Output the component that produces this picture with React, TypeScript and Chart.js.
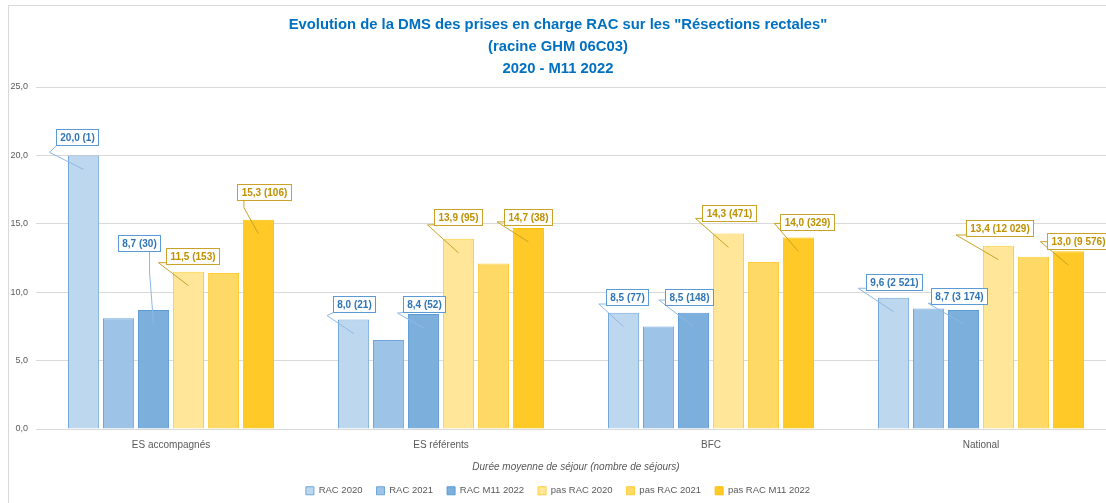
import React, { useEffect, useRef } from "react";
import { Chart, registerables } from "chart.js";

Chart.register(...registerables);

// ---------- DATA ----------
const CATEGORIES = ["ES accompagnés", "ES référents", "BFC", "National"];
const SERIES_NAMES = ["RAC 2020", "RAC 2021", "RAC M11 2022", "pas RAC 2020", "pas RAC 2021", "pas RAC M11 2022"];
const RAC_2020 = [20.0, 8.0, 8.5, 9.6];
const RAC_2021 = [8.1, 6.5, 7.5, 8.8];
const RAC_M11_2022 = [8.7, 8.4, 8.5, 8.7];
const PAS_RAC_2020 = [11.5, 13.9, 14.3, 13.4];
const PAS_RAC_2021 = [11.4, 12.1, 12.2, 12.6];
const PAS_RAC_M11_2022 = [15.3, 14.7, 14.0, 13.0];
// number of stays (shown in labels)
const N_RAC_2020 = [1, 21, 77, 2521];
const N_RAC_M11_2022 = [30, 52, 148, 3174];
const N_PAS_RAC_2020 = [153, 95, 471, 12029];
const N_PAS_RAC_M11_2022 = [106, 38, 329, 9576];
const Y_MIN = 0;
const Y_MAX = 25;
const Y_STEP = 5;
const TITLE_LINES = [
  "Evolution de la DMS des prises en charge RAC sur les \"Résections rectales\"",
  "(racine GHM 06C03)",
  "2020 - M11 2022",
];
const X_TITLE = "Durée moyenne de séjour (nombre de séjours)";

// ---------- STYLE ----------
const FONT = "'Liberation Sans', Arial, sans-serif";
const FILLS = ["#BDD7EE", "#9DC3E6", "#7DAFDD", "#FFE699", "#FFD966", "#FFCA28"];
const BORDERS = ["#6FA6DA", "#6FA6DA", "#5B9BD5", "#FFCD3A", "#FFCD3A", "#FFC000"];
const BLUE_LBL = { text: "#2F75B5", border: "#5B9BD5", line: "#8DB9E4" };
const GOLD_LBL = { text: "#BF9000", border: "#C9A227", line: "#C9A227" };

// label callout layout: [boxDx, boxDy, elbowDx, elbowDy] relative to bar top-centre
const CALLOUTS_S0 = [[-7, -18.5, -34, -3], [0, -16, -26.5, -4], [3, -16, -24.7, -8.7], [0, -16, -35.4, -9.4]];
const CALLOUTS_S2 = [[-15, -67, -4, -38], [0, -10.5, -26, -1], [-5, -16, -34.7, -12.7], [-5, -14, -35.4, -6.7]];
const CALLOUTS_S3 = [[4, -16, -30, -9], [0, -22, -31, -14], [1, -20, -33, -15], [0.6, -17.4, -42.4, -10.7]];
const CALLOUTS_S5 = [[6, -28, -14.5, -12], [0, -11, -31.4, -6], [9, -15, -24, -14], [10, -10, -28, -9.5]];

const LABELLED = [
  { ds: 0, counts: N_RAC_2020, callouts: CALLOUTS_S0, style: BLUE_LBL },
  { ds: 2, counts: N_RAC_M11_2022, callouts: CALLOUTS_S2, style: BLUE_LBL },
  { ds: 3, counts: N_PAS_RAC_2020, callouts: CALLOUTS_S3, style: GOLD_LBL },
  { ds: 5, counts: N_PAS_RAC_M11_2022, callouts: CALLOUTS_S5, style: GOLD_LBL },
];

const fmtValue = (v: number) => v.toFixed(1).replace(".", ",");
const fmtCount = (n: number) => String(n).replace(/\B(?=(\d{3})+(?!\d))/g, " ");
const clamp = (v: number, a: number, b: number) => Math.max(a, Math.min(b, v));

const framePlugin = {
  id: "frame",
  beforeDraw(chart: any) {
    const { ctx, width, height } = chart;
    ctx.save();
    ctx.fillStyle = "#ffffff";
    ctx.fillRect(0, 0, width, height);
    ctx.strokeStyle = "#D9D9D9";
    ctx.lineWidth = 1;
    ctx.strokeRect(8.5, 5.5, 3000, 3000);
    ctx.restore();
  },
};

const calloutPlugin = {
  id: "callouts",
  afterDatasetsDraw(chart: any) {
    const ctx = chart.ctx;
    ctx.save();
    ctx.font = `bold 10px ${FONT}`;
    ctx.lineWidth = 1;
    LABELLED.forEach(({ ds, counts, callouts, style }) => {
      const meta = chart.getDatasetMeta(ds);
      const data = chart.data.datasets[ds].data as number[];
      meta.data.forEach((bar: any, i: number) => {
        const str = `${fmtValue(data[i])} (${fmtCount(counts[i])})`;
        const ax = bar.x;
        const ay = bar.y;
        const [bdx, bdy, edx, edy] = callouts[i];
        const tw = ctx.measureText(str).width;
        const w = Math.round(tw + 8);
        const h = 16;
        const L = Math.round(ax + bdx - w / 2) + 0.5;
        const T = Math.round(ay + bdy - h / 2) + 0.5;
        const ex = ax + edx;
        const ey = ay + edy;
        const px = clamp(ex, L, L + w);
        const py = clamp(ey, T, T + h);
        ctx.strokeStyle = style.line;
        ctx.beginPath();
        ctx.moveTo(ax, ay + 14);
        ctx.lineTo(ex, ey);
        ctx.lineTo(px, py);
        ctx.stroke();
        ctx.fillStyle = "#ffffff";
        ctx.fillRect(L, T, w, h);
        ctx.strokeStyle = style.border;
        ctx.strokeRect(L, T, w, h);
        ctx.fillStyle = style.text;
        ctx.textAlign = "center";
        ctx.textBaseline = "middle";
        ctx.fillText(str, L + w / 2, T + h / 2 + 0.5);
      });
    });
    ctx.restore();
  },
};

export default function App() {
  const ref = useRef<HTMLCanvasElement | null>(null);

  useEffect(() => {
    if (!ref.current) return;
    Chart.defaults.font.family = FONT;
    const seriesData = [RAC_2020, RAC_2021, RAC_M11_2022, PAS_RAC_2020, PAS_RAC_2021, PAS_RAC_M11_2022];
    const chart = new Chart(ref.current, {
      type: "bar",
      data: {
        labels: CATEGORIES,
        datasets: SERIES_NAMES.map((name, k) => ({
          label: name,
          data: seriesData[k],
          backgroundColor: FILLS[k],
          borderColor: BORDERS[k],
          borderWidth: 1,
          categoryPercentage: 0.777,
          barPercentage: 0.89,
        })),
      },
      options: {
        responsive: false,
        animation: false,
        layout: { padding: { left: 0, right: 14, top: 0, bottom: 0 } },
        plugins: {
          title: {
            display: true,
            text: TITLE_LINES,
            color: "#0070C0",
            font: { family: FONT, size: 14.8, weight: "bold", lineHeight: 22 / 14.8 },
            padding: { top: 14, bottom: 7 },
          },
          legend: {
            position: "bottom",
            maxHeight: 31,
            labels: {
              boxWidth: 8,
              boxHeight: 8,
              padding: 14,
              color: "#595959",
              font: { family: FONT, size: 9.5 },
            },
          },
          tooltip: { enabled: false },
        },
        scales: {
          x: {
            grid: { display: false, drawTicks: false },
            border: { display: true, color: "#D9D9D9" },
            ticks: { color: "#595959", font: { family: FONT, size: 10 }, padding: 10 },
            title: {
              display: true,
              text: X_TITLE,
              color: "#595959",
              font: { family: FONT, size: 10, style: "italic", lineHeight: 1 },
              padding: { top: 0, bottom: 0 },
            },
            afterFit: (s: any) => {
              s.height = 43;
            },
          },
          y: {
            min: Y_MIN,
            max: Y_MAX,
            ticks: {
              stepSize: Y_STEP,
              color: "#595959",
              font: { family: FONT, size: 9 },
              padding: 8,
              callback: (v: any) => fmtValue(Number(v)),
            },
            grid: { color: "#D9D9D9", drawTicks: false },
            border: { display: false },
            afterFit: (s: any) => {
              s.width = 36;
            },
          },
        },
      },
      plugins: [framePlugin, calloutPlugin],
    });
    return () => chart.destroy();
  }, []);

  return (
    <div
      style={{
        position: "absolute",
        left: 0,
        top: 0,
        width: 1106,
        height: 503,
        overflow: "hidden",
        background: "#ffffff",
      }}
    >
      <canvas ref={ref} width={1130} height={503} style={{ display: "block" }} />
    </div>
  );
}
